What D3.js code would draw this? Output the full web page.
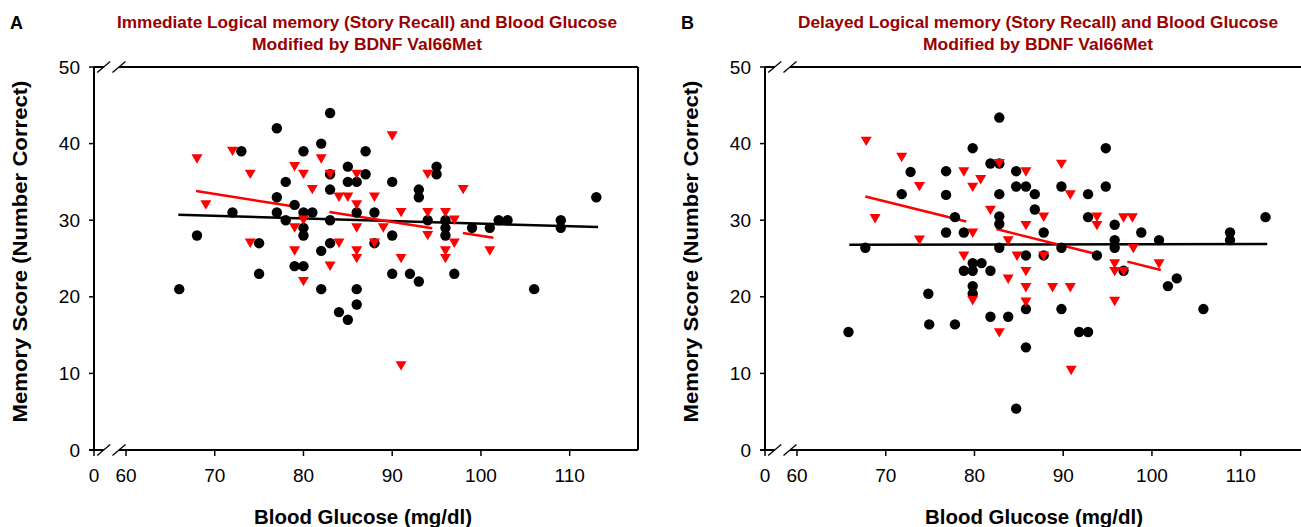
<!DOCTYPE html>
<html>
<head>
<meta charset="utf-8">
<script src="https://cdn.jsdelivr.net/npm/d3@7"></script>
<style>
  html, body { margin: 0; padding: 0; background: #fff; }
  svg { display: block; font-family: "Liberation Sans", Arial, Helvetica, sans-serif; }
</style>
</head>
<body>
<svg id="chart" width="1301" height="527"></svg>
<script>
// ---------------- DATA ----------------
const glucoseTicks = [0, 60, 70, 80, 90, 100, 110];
const scoreTicks = [0, 10, 20, 30, 40, 50];

const titleA = ["Immediate Logical memory (Story Recall) and Blood Glucose", "Modified by BDNF Val66Met"];
const titleB = ["Delayed Logical memory (Story Recall) and Blood Glucose", "Modified by BDNF Val66Met"];
const xTitle = "Blood Glucose (mg/dl)";
const yTitle = "Memory Score (Number Correct)";

// Panel A: immediate recall (black circles / red triangles), [glucose, score]
const immBlack = [
  [66,21],[68,28],[72,31],[73,39],[75,27],[75,23],[77,42],[77,33],[77,31],[78,35],[78,30],
  [79,32],[79,24],[80,39],[80,31],[80,29],[80,28],[80,24],[81,31],[82,40],[82,26],[82,21],
  [83,44],[83,36],[83,34],[83,30],[83,27],[84,18],[85,37],[85,35],[85,17],[86,35],[86,31],
  [86,21],[86,19],[87,39],[87,36],[88,31],[88,27],[90,35],[90,28],[90,23],[92,23],[93,34],
  [93,33],[93,22],[94,30],[95,37],[95,36],[96,30],[96,29],[96,28],[97,23],[99,29],[101,29],
  [102,30],[103,30],[106,21],[109,30],[109,29],[113,33]
];
const immRed = [
  [68,38],[69,32],[72,39],[74,36],[74,27],[79,37],[79,29],[79,26],[80,36],[80,30],[80,22],
  [81,34],[82,38],[83,36],[83,24],[84,33],[84,27],[85,33],[86,36],[86,32],[86,29],[86,26],
  [86,25],[88,33],[88,27],[89,29],[90,41],[91,31],[91,25],[91,11],[94,36],[94,31],[94,28],
  [96,31],[96,26],[96,25],[97,30],[97,27],[98,34],[101,26]
];
const immFitBlack = [[65.9,30.7],[113.2,29.1]];
const immFitRed = [[67.9,33.8],[101.4,27.7]];

// Panel B: delayed recall
const delBlack = [
  [65.8,15.4],[67.7,26.4],[71.8,33.4],[72.8,36.3],[74.8,20.4],[74.9,16.4],[76.8,36.4],[76.8,33.3],
  [76.8,28.4],[77.8,30.4],[77.8,16.4],[78.8,28.4],[78.8,23.4],[79.8,39.4],[79.8,24.4],[79.8,23.4],
  [79.8,21.4],[79.8,20.4],[80.8,24.4],[81.8,37.4],[81.8,23.4],[81.8,17.4],[82.8,43.4],[82.8,37.4],
  [82.8,33.4],[82.8,30.5],[82.8,29.5],[82.8,26.4],[83.8,17.4],[84.7,36.4],[84.7,34.4],[85.8,34.4],
  [84.7,5.4],[85.8,25.4],[85.8,18.4],[85.8,13.4],[86.8,33.4],[86.8,31.4],[87.8,28.4],[87.8,25.4],
  [89.8,34.4],[89.8,26.4],[89.8,18.4],[91.8,15.4],[92.8,33.4],[92.8,30.4],[92.8,15.4],[93.8,25.4],
  [94.8,39.4],[94.8,34.4],[95.8,29.4],[95.8,27.4],[95.8,26.4],[96.8,23.4],[98.8,28.4],[100.8,27.4],
  [101.8,21.4],[102.8,22.4],[105.8,18.4],[108.8,28.4],[108.8,27.4],[112.8,30.4]
];
const delRed = [
  [67.8,40.3],[68.8,30.2],[71.8,38.2],[73.8,34.4],[73.8,27.4],[78.8,36.3],[78.8,25.3],[79.8,34.3],
  [79.8,28.3],[79.8,19.5],[80.7,35.3],[81.8,31.3],[82.8,37.4],[82.8,15.3],[83.8,27.3],[83.8,22.3],
  [84.8,25.3],[85.8,36.3],[85.8,29.3],[85.8,23.3],[85.8,21.2],[85.8,19.3],[87.8,30.4],[87.8,25.3],
  [88.8,21.2],[89.8,37.3],[90.8,33.3],[90.8,21.2],[90.9,10.4],[93.8,30.4],[93.8,29.3],[95.8,24.3],
  [95.8,23.3],[95.8,19.4],[96.8,30.3],[96.8,23.3],[97.8,30.3],[97.9,26.3],[100.8,24.3]
];
const delFitBlack = [[65.9,26.8],[113.0,26.9]];
const delFitRed = [[67.7,33.1],[101.0,23.5]];

// ---------------- DRAW ----------------
const svg = d3.select("#chart");
const W = 544, H = 383;
const DARKRED = "#990000";

function panel(opts) {
  const g = svg.append("g").attr("transform", `translate(${opts.left},${opts.top})`);
  const x = d3.scaleLinear().domain([0, 60, 117.7]).range([0, 32, W]);
  const y = d3.scaleLinear().domain([0, 50]).range([H, 0]);

  const bx1 = 9.7, bx2 = 25;   // break slash centres
  const stroke = (sel, w) => sel.attr("stroke", "#000").attr("stroke-width", w);
  stroke(g.append("line").attr("x1", 0).attr("x2", bx1).attr("y1", 0).attr("y2", 0), 2);
  stroke(g.append("line").attr("x1", bx2).attr("x2", W).attr("y1", 0).attr("y2", 0), 2);
  stroke(g.append("line").attr("x1", W).attr("x2", W).attr("y1", 0).attr("y2", H), 2);
  stroke(g.append("line").attr("x1", 0).attr("x2", 0).attr("y1", 0).attr("y2", H), 2);
  stroke(g.append("line").attr("x1", -5).attr("x2", bx1).attr("y1", H).attr("y2", H), 2);
  stroke(g.append("line").attr("x1", bx2).attr("x2", W).attr("y1", H).attr("y2", H), 2);
  [0, H].forEach(yy => {
    [bx1, bx2].forEach(cx => {
      stroke(g.append("line").attr("x1", cx - 6.5).attr("y1", yy + 5.5)
        .attr("x2", cx + 6.5).attr("y2", yy - 5.5), 1.3);
    });
  });

  // y ticks
  scoreTicks.forEach(t => {
    stroke(g.append("line").attr("x1", -5).attr("x2", 0).attr("y1", y(t)).attr("y2", y(t)), 1.5);
    g.append("text").attr("x", -14).attr("y", y(t)).attr("dy", "0.35em")
      .attr("text-anchor", "end").attr("font-size", 19).attr("fill", "#000").text(t);
  });
  // x ticks
  glucoseTicks.forEach(t => {
    stroke(g.append("line").attr("x1", x(t)).attr("x2", x(t)).attr("y1", H).attr("y2", H + 6), 1.5);
    g.append("text").attr("x", x(t)).attr("y", H + 32)
      .attr("text-anchor", "middle").attr("font-size", 19).attr("fill", "#000").text(t);
  });

  // axis titles
  g.append("text").attr("x", W / 2 - 3).attr("y", H + 74)
    .attr("text-anchor", "middle").attr("font-size", 20).attr("font-weight", "bold")
    .attr("textLength", 218).attr("lengthAdjust", "spacingAndGlyphs")
    .text(xTitle);
  g.append("text").attr("transform", `translate(${-67},${H / 2 - 7}) rotate(-90)`)
    .attr("text-anchor", "middle").attr("font-size", 20).attr("font-weight", "bold")
    .attr("textLength", 342).attr("lengthAdjust", "spacingAndGlyphs")
    .text(yTitle);

  // chart title
  opts.title.forEach((line, i) => {
    g.append("text").attr("x", W / 2 + 1).attr("y", -39 + i * 22)
      .attr("text-anchor", "middle").attr("font-size", 16).attr("font-weight", "bold")
      .attr("textLength", opts.titleLen[i]).attr("lengthAdjust", "spacingAndGlyphs")
      .attr("fill", DARKRED).text(line);
  });
  // panel letter
  svg.append("text").attr("x", opts.left - 84).attr("y", 29)
    .attr("font-size", 18).attr("font-weight", "bold").text(opts.letter);

  // fit lines
  const lineGen = d3.line().x(d => x(d[0])).y(d => y(d[1]));
  g.append("path").datum(opts.fitBlack).attr("d", lineGen)
    .attr("fill", "none").attr("stroke", "#000").attr("stroke-width", 2.5);
  g.append("path").datum(opts.fitRed).attr("d", lineGen)
    .attr("fill", "none").attr("stroke", "#ff0000").attr("stroke-width", 2.5)
    .attr("stroke-dasharray", "104,31");

  // points
  g.selectAll("circle.blk").data(opts.black).join("circle").attr("class", "blk")
    .attr("cx", d => x(d[0])).attr("cy", d => y(d[1])).attr("r", 5.2).attr("fill", "#000");
  const triPath = "M-5.5,-4.6L5.5,-4.6L0,4.8Z";   // downward triangle marker
  g.selectAll("path.red").data(opts.red).join("path").attr("class", "red")
    .attr("d", triPath)
    .attr("transform", d => `translate(${x(d[0])},${y(d[1])})`)
    .attr("fill", "#ff0000");
}

panel({ left: 94, top: 67, title: titleA, titleLen: [500, 230], letter: "A",
        black: immBlack, red: immRed, fitBlack: immFitBlack, fitRed: immFitRed });
panel({ left: 765, top: 67, title: titleB, titleLen: [480, 230], letter: "B",
        black: delBlack, red: delRed, fitBlack: delFitBlack, fitRed: delFitRed });
</script>
</body>
</html>
